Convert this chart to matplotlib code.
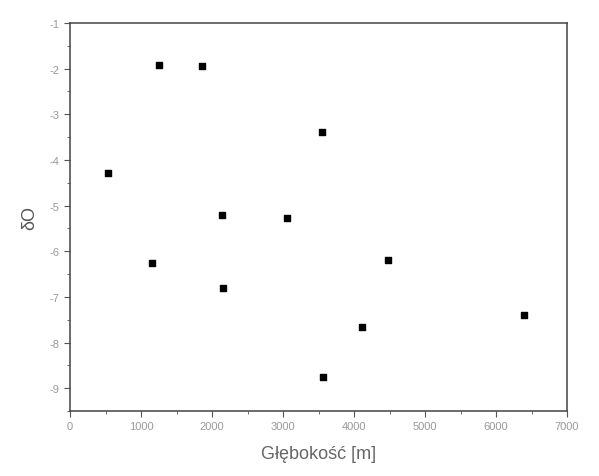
import matplotlib.pyplot as plt
from matplotlib.ticker import MultipleLocator

glebokosc = [1258, 1864, 3554, 540, 2145, 3056, 1150, 4483, 2155, 4117, 6399, 3568]
wartosci = [-1.92, -1.94, -3.38, -4.28, -5.20, -5.28, -6.25, -6.19, -6.80, -7.65, -7.39, -8.76]

plt.rcParams['font.family'] = ['Liberation Sans', 'DejaVu Sans']
plt.rcParams['axes.unicode_minus'] = False

fig = plt.figure(figsize=(5.99, 4.77), dpi=100)
ax = fig.add_axes([0.1169, 0.1363, 0.8297, 0.8134])

ax.scatter(glebokosc, wartosci, marker='s', s=20, color='black', zorder=3)

ax.set_xlim(0, 7000)
ax.set_ylim(-9.5, -1)
ax.xaxis.set_major_locator(MultipleLocator(1000))
ax.xaxis.set_minor_locator(MultipleLocator(500))
ax.yaxis.set_major_locator(MultipleLocator(1))
ax.yaxis.set_minor_locator(MultipleLocator(0.5))

for s in ax.spines.values():
    s.set_color('#444444')
    s.set_linewidth(1.1)

ax.tick_params(which='major', direction='out', length=4, color='#555555',
               labelsize=8, labelcolor='#999999')
ax.tick_params(which='minor', direction='out', length=2.5, color='#555555')

ax.set_xlabel('Głębokość [m]', fontsize=13, color='#666666', labelpad=10)
ax.set_ylabel('δO', fontsize=13, color='#555555', labelpad=8)

fig.savefig('out.png', dpi=100)
